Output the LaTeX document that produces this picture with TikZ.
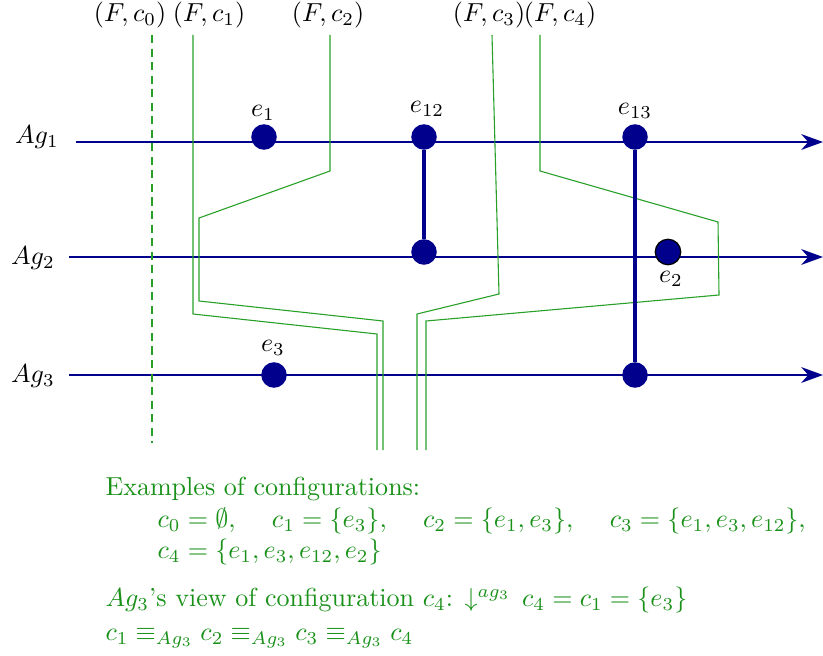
\documentclass[tikz,border=0pt]{standalone}
\usepackage{amsmath}
\usetikzlibrary{arrows.meta}
\definecolor{evblue}{RGB}{0,0,140}
\definecolor{cutgreen}{RGB}{40,160,40}
\definecolor{txtgreen}{RGB}{25,145,25}

\begin{document}
\begin{tikzpicture}[
    x=0.384pt, y=-0.384pt,
    agline/.style={evblue, line width=0.48pt, -{Stealth[length=8.4pt, width=6.1pt]}},
    ev/.style={circle, fill=evblue, inner sep=0pt, minimum size=9.8pt},
    sync/.style={evblue, line width=1.5pt},
    cut/.style={cutgreen, line width=0.42pt},
    lab/.style={inner sep=1pt},
]
\useasboundingbox (0,0) rectangle (823,655);

% ================================================ agents
\node[lab] (ag1) at (37,137) {$Ag_1$};
\node[lab] (ag2) at (33,258) {$Ag_2$};
\node[lab] (ag3) at (33,376) {$Ag_3$};
\coordinate (a1s) at (76,142);  \coordinate (a1e) at (823,142);
\coordinate (a2s) at (69,257);  \coordinate (a2e) at (823,257);
\coordinate (a3s) at (69,375);  \coordinate (a3e) at (823,375);
\draw[agline] (a1s) -- (a1e);
\draw[agline] (a2s) -- (a2e);
\draw[agline] (a3s) -- (a3e);

% ================================================ cuts
\node[lab] (f0) at (130,15) {$(F, c_0)$};
\node[lab] (f1) at (209,15) {$(F, c_1)$};
\node[lab] (f2) at (328,15) {$(F, c_2)$};
\node[lab] (f3) at (489,15) {$(F, c_3)$};
\node[lab] (f4) at (560,15) {$(F, c_4)$};

\draw[cut, dash pattern=on 3.1pt off 2.1pt] (152,35) -- (152,443);
\draw[cut] (193,35) -- (193,314) -- (377,334) -- (377,450);
\draw[cut] (330,35) -- (330,171) -- (199,218) -- (199,301) -- (383,321) -- (383,450);
\draw[cut] (492,35) -- (499,294) -- (417,314) -- (417,450);
\draw[cut] (540,35) -- (540,171) -- (718,222) -- (719,295) -- (426,321) -- (426,450);

% ================================================ events
\node[ev] (e1) at (264,137) {};
\node[ev] (e12a) at (424,137) {};
\node[ev] (e12b) at (424,252) {};
\node[ev] (e13a) at (635,137) {};
\node[ev] (e13b) at (635,375) {};
\node[ev, draw=black, line width=0.47pt] (e2) at (668,252) {};
\node[ev] (e3) at (274,375) {};
\draw[sync] (e12a) -- (e12b);
\draw[sync] (e13a) -- (e13b);

\node[lab] at (263,113) {$e_1$};
\node[lab] at (427,109) {$e_{12}$};
\node[lab] at (635,111) {$e_{13}$};
\node[lab] at (671,279) {$e_2$};
\node[lab] at (273,348) {$e_3$};

% ================================================ text
\node[txtgreen, inner sep=0pt, anchor=north west, align=left] (txt) at (105,477)
    {Examples of configurations:\\
     \hspace*{2em}$c_0=\emptyset,$\hspace{1.4em}$c_1=\{e_3\},$\hspace{1.4em}%
     $c_2=\{e_1,e_3\},$\hspace{1.4em}$c_3=\{e_1,e_3,e_{12}\},$\\
     \hspace*{2em}$c_4=\{e_1,e_3,e_{12},e_2\}$\\[6.5pt]
     $Ag_3$'s view of configuration $c_4$: $\downarrow^{ag_3}\,c_4=c_1=\{e_3\}$\\[1pt]
     $c_1\equiv_{Ag_3}c_2\equiv_{Ag_3}c_3\equiv_{Ag_3}c_4$};

\end{tikzpicture}
\end{document}
